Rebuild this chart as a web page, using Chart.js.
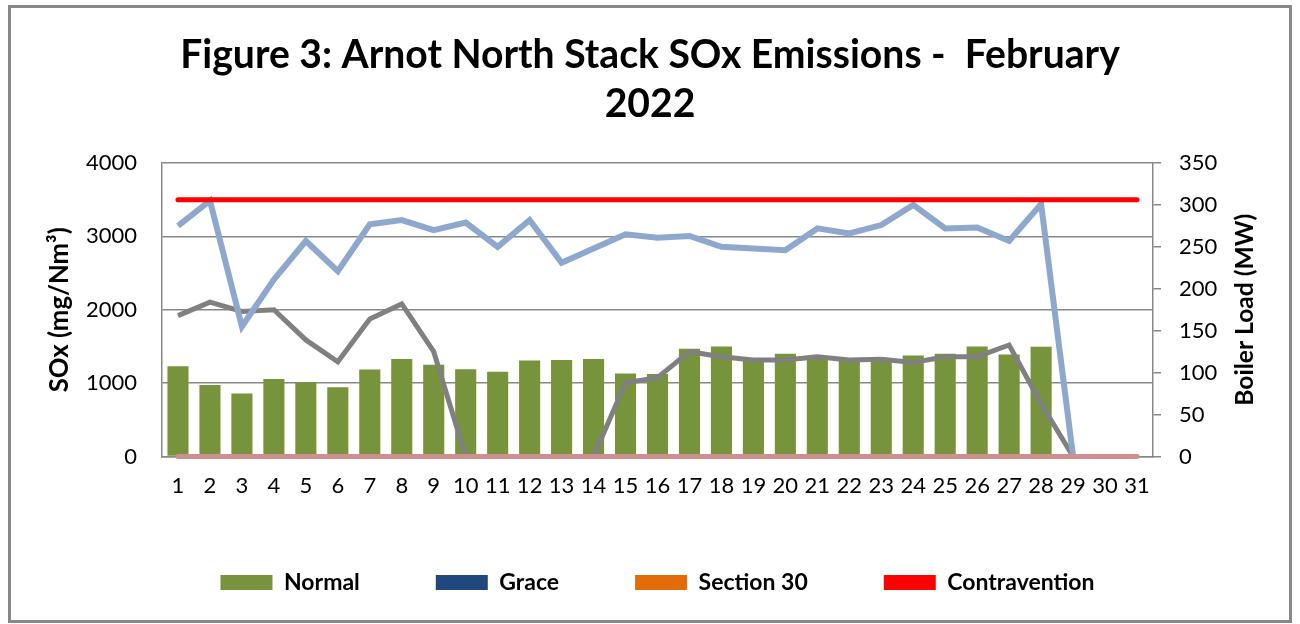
<!DOCTYPE html>
<html>
<head>
<meta charset="utf-8">
<title>Figure 3: Arnot North Stack SOx Emissions - February 2022</title>
<script src="https://cdn.jsdelivr.net/npm/chart.js@4.4.1/dist/chart.umd.min.js"></script>
<style>
  html, body { margin: 0; padding: 0; background: #fff; }
  #chart { display: block; }
</style>
</head>
<body>
<canvas id="chart" width="1300" height="624"></canvas>
<script>
// Days of February 2022 (axis runs to 31)
const days = ['1', '2', '3', '4', '5', '6', '7', '8', '9', '10', '11', '12', '13', '14', '15', '16',
    '17', '18', '19', '20', '21', '22', '23', '24', '25', '26', '27', '28', '29', '30', '31'];

// Daily SOx (mg/Nm³) by status
const normal = [1230, 975, 860, 1055, 1015, 945, 1185, 1330, 1250, 1190, 1155, 1310, 1315, 1330, 1130,
    1125, 1470, 1500, 1310, 1400, 1370, 1330, 1320, 1375, 1400, 1500, 1390, 1495, 0, 0, 0];
const grace = [];
const section30 = [];
const contravention = [];

// Emission limit and zero baseline (mg/Nm³)
const limit = [3500, 3500, 3500, 3500, 3500, 3500, 3500, 3500, 3500, 3500, 3500, 3500, 3500, 3500, 3500,
    3500, 3500, 3500, 3500, 3500, 3500, 3500, 3500, 3500, 3500, 3500, 3500, 3500, 3500, 3500, 3500];
const baseline = [0, 0, 0, 0, 0, 0, 0, 0, 0, 0, 0, 0, 0, 0, 0, 0, 0, 0, 0, 0, 0, 0, 0, 0, 0, 0, 0, 0, 0, 0, 0];

// Loads (MW), right axis
const boilerLoad = [275, 305, 155, 211, 257, 221, 277, 282, 270, 279, 250, 282, 231, 248, 265,
    261, 263, 250, 248, 246, 272, 266, 276, 300, 272, 273, 257, 301, 0, null, null];
const unitLoad = [168, 184, 173, 175, 139, 113, 164, 182, 125, 0, 0, 0, 0, 0, 88,
    94, 125, 119, 115, 115, 119, 115, 116, 112, 119, 119, 133, 63, 0, null, null];

const leftTicks = [0, 1000, 2000, 3000, 4000];
const rightTicks = [0, 50, 100, 150, 200, 250, 300, 350];

const titleLines = ['Figure 3: Arnot North Stack SOx Emissions -  February', '2022'];
const FONT = 'Lato, "Open Sans", sans-serif';
const GRID = '#878787';

function fitSize(text, weight, width) {
    const ctx = document.createElement('canvas').getContext('2d');
    ctx.font = `${weight} 100px ${FONT}`;
    return 100 * width / ctx.measureText(text).width;
}

const titleSize = fitSize(titleLines[0], 'bold', 940);

const extras = {
    id: 'extras',
    afterLayout(chart) {
        // centre the legend row under the plot area, as in the original
        const shift = (chart.chartArea.left + chart.chartArea.right) / 2 - (chart.legend.left + chart.legend.right) / 2;
        chart.legend.left += shift;
        chart.legend.right += shift;
    },
    afterDraw(chart) {
        const { ctx, chartArea } = chart;
        const midY = (chartArea.top + chartArea.bottom) / 2;
        ctx.save();
        ctx.fillStyle = '#000';
        ctx.textAlign = 'center';
        ctx.textBaseline = 'middle';
        [
            [chartArea.left - 102, 'SOx (mg/Nm³)', 165],
            [chartArea.right + 92, 'Boiler Load (MW)', 192],
        ].forEach(([x, text, w]) => {
            ctx.save();
            ctx.font = `bold ${Math.min(fitSize(text, 'bold', w), 26)}px ${FONT}`;
            ctx.translate(x, midY);
            ctx.rotate(-Math.PI / 2);
            ctx.fillText(text, 0, 0);
            ctx.restore();
        });
        ctx.strokeStyle = '#888';
        ctx.lineWidth = 3;
        ctx.strokeRect(9.5, 6.5, 1281, 615);
        ctx.restore();
    },
};

const barBase = { type: 'bar', yAxisID: 'y', grouped: false, borderWidth: 0,
    categoryPercentage: 0.66, barPercentage: 1, order: 10 };
const lineBase = { type: 'line', pointRadius: 0, clip: 8 };

const tickFont = { family: FONT, size: 22 };

new Chart(document.getElementById('chart'), {
    data: {
        labels: days,
        datasets: [
            { ...barBase, label: 'Normal', data: normal, backgroundColor: '#77933C' },
            { ...barBase, label: 'Grace', data: grace, backgroundColor: '#1F497D' },
            { ...barBase, label: 'Section 30', data: section30, backgroundColor: '#E36C09' },
            { ...barBase, label: 'Contravention', data: contravention, backgroundColor: '#FF0000' },
            { ...lineBase, label: 'Boiler Load', data: boilerLoad, yAxisID: 'y1',
                borderColor: '#8EA8CD', borderWidth: 6, order: 4 },
            { ...lineBase, label: 'Unit Load', data: unitLoad, yAxisID: 'y1',
                borderColor: '#808080', borderWidth: 5, order: 5 },
            { ...lineBase, label: 'Limit', data: limit, yAxisID: 'y',
                borderColor: '#FF0000', borderWidth: 5, borderCapStyle: 'round', order: 2 },
            { ...lineBase, label: 'Baseline', data: baseline, yAxisID: 'y',
                borderColor: '#CF8F8F', borderWidth: 5, borderCapStyle: 'round', order: 1 },
        ],
    },
    options: {
        responsive: false,
        animation: false,
        layout: { padding: { top: 14, left: 10, right: 10, bottom: 20 } },
        elements: { line: { tension: 0 } },
        plugins: {
            tooltip: { enabled: false },
            title: {
                display: true,
                text: titleLines,
                color: '#000',
                font: { family: FONT, weight: 'bold', size: titleSize, lineHeight: 49 / titleSize },
                padding: { top: 16.5, bottom: 34.5 },
            },
            legend: {
                position: 'bottom',
                labels: {
                    boxWidth: 52,
                    boxHeight: 15,
                    padding: 76,
                    color: '#000',
                    font: { family: FONT, weight: 'bold', size: 23 },
                    filter: (item) => item.datasetIndex < 4,
                },
            },
        },
        scales: {
            x: {
                grid: { display: false },
                border: { display: true, color: GRID, width: 1.5 },
                ticks: { color: '#000', padding: 8, font: tickFont, maxRotation: 0, autoSkip: false },
                afterFit: (scale) => { scale.height = 38.5; },
            },
            y: {
                position: 'left',
                min: 0,
                max: 4000,
                afterBuildTicks: (scale) => { scale.ticks = leftTicks.map(v => ({ value: v })); },
                grid: { color: GRID, lineWidth: 1.5, drawTicks: false },
                border: { display: true, color: GRID, width: 1.5 },
                ticks: { color: '#000', padding: 25, font: tickFont, autoSkip: false, callback: (v) => String(v) },
                afterFit: (scale) => { scale.width = 152; },
            },
            y1: {
                position: 'right',
                min: 0,
                max: 350,
                afterBuildTicks: (scale) => { scale.ticks = rightTicks.map(v => ({ value: v })); },
                grid: { drawOnChartArea: false, color: GRID, lineWidth: 1.5, tickLength: 8 },
                border: { display: true, color: GRID, width: 1.5 },
                ticks: { color: '#000', padding: 18, font: tickFont, autoSkip: false, callback: (v) => String(v) },
                afterFit: (scale) => { scale.width = 137; },
            },
        },
    },
    plugins: [extras],
});
</script>
</body>
</html>
